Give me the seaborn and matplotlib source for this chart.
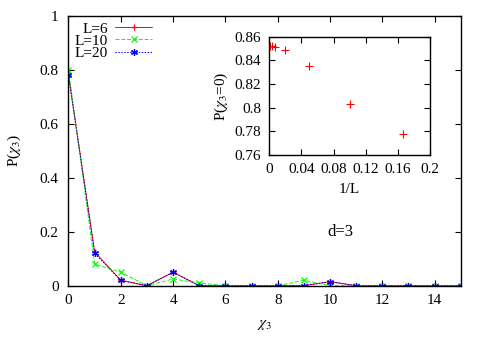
import numpy as np
import pandas as pd
import matplotlib
matplotlib.use('Agg')
import matplotlib.pyplot as plt
import seaborn as sns

# data
chi3 = list(range(16))
p_L6 = [0.78, 0.125, 0.02, 0.0, 0.05, 0.0, 0.0, 0.0, 0.0, 0.0, 0.015, 0.0, 0.0, 0.0, 0.0, 0.0]
p_L10 = [0.80, 0.08, 0.05, 0.0, 0.025, 0.01, 0.0, 0.0, 0.0, 0.02, 0.0, 0.0, 0.0, 0.0, 0.0, 0.0]
p_L20 = [0.78, 0.12, 0.02, 0.0, 0.05, 0.0, 0.0, 0.0, 0.0, 0.0, 0.015, 0.0, 0.0, 0.0, 0.0, 0.0]
labels = ['L=6', 'L=10', 'L=20']

inv_L = [1 / 6, 1 / 10, 1 / 20, 1 / 50, 0.007, 0.003, 0.001]
p0 = [0.778, 0.803, 0.835, 0.849, 0.851, 0.852, 0.852]

sns.set_theme(style='ticks')
plt.rcParams['font.family'] = ['Liberation Serif', 'DejaVu Serif']
plt.rcParams['mathtext.fontset'] = 'stix'
plt.rcParams['xtick.direction'] = 'in'
plt.rcParams['ytick.direction'] = 'in'
plt.rcParams['xtick.top'] = True
plt.rcParams['ytick.right'] = True
plt.rcParams['axes.linewidth'] = 1.0
for key in ['text.color', 'axes.labelcolor', 'xtick.color', 'ytick.color', 'axes.edgecolor']:
    plt.rcParams[key] = 'black'

fig = plt.figure(figsize=(4.91, 3.43), dpi=100)
ax = fig.add_axes([0.1395, 0.167, 0.799, 0.787])

series = [p_L6, p_L10, p_L20]
colors = ['#ff0000', '#00ff00', '#0000ff']
linestyles = ['-', (0, (4, 2)), (0, (1.5, 1.5))]
markers = ['+', 'x', (6, 2, 0)]

for vals, lab, col, ls, mk in zip(series, labels, colors, linestyles, markers):
    sns.lineplot(x=chi3, y=vals, ax=ax, color=col, linestyle=ls, marker=mk,
                 markersize=5, markeredgewidth=0.9, markeredgecolor=col,
                 linewidth=0.7, label=lab)

ax.set_xlim(0, 15)
ax.set_ylim(0, 1)
ax.set_xticks(range(0, 15, 2))
ax.set_yticks([0, 0.2, 0.4, 0.6, 0.8, 1])
ax.set_yticklabels(['0', '0.2', '0.4', '0.6', '0.8', '1'])
ax.tick_params(labelsize=11, length=4, width=0.8)
ax.tick_params(axis='y', pad=7)
ax.tick_params(axis='x', pad=6)
ax.set_xlabel(r'$\chi_3$', fontsize=11, labelpad=8)
ax.set_ylabel(r'P($\chi_3$)', fontsize=11, labelpad=12)
ax.legend(loc='upper left', frameon=False, markerfirst=False, fontsize=11,
          handlelength=2.4, handletextpad=0.5, labelspacing=-0.1,
          numpoints=1, borderaxespad=0.0, bbox_to_anchor=(0.0, 1.0))
ax.text(10.4, 0.2, 'd=3', fontsize=12, ha='center', va='center')

# inset
ins = fig.add_axes([0.5485, 0.548, 0.3273, 0.345])
sns.scatterplot(x=inv_L, y=p0, ax=ins, marker='+', color='#ff0000', s=40,
                linewidth=0.8)
ins.set_xlim(0, 0.2)
ins.set_ylim(0.76, 0.86)
ins.set_xticks([0, 0.04, 0.08, 0.12, 0.16, 0.2])
ins.set_xticklabels(['0', '0.04', '0.08', '0.12', '0.16', '0.2'])
ins.set_yticks([0.76, 0.78, 0.8, 0.82, 0.84, 0.86])
ins.set_yticklabels(['0.76', '0.78', '0.8', '0.82', '0.84', '0.86'])
ins.tick_params(labelsize=11, length=4, width=0.8, pad=6)
ins.set_xlabel('1/L', fontsize=11, labelpad=5)
ins.set_ylabel(r'P($\chi_3$=0)', fontsize=11, labelpad=3)

fig.savefig('out.png', dpi=100)
